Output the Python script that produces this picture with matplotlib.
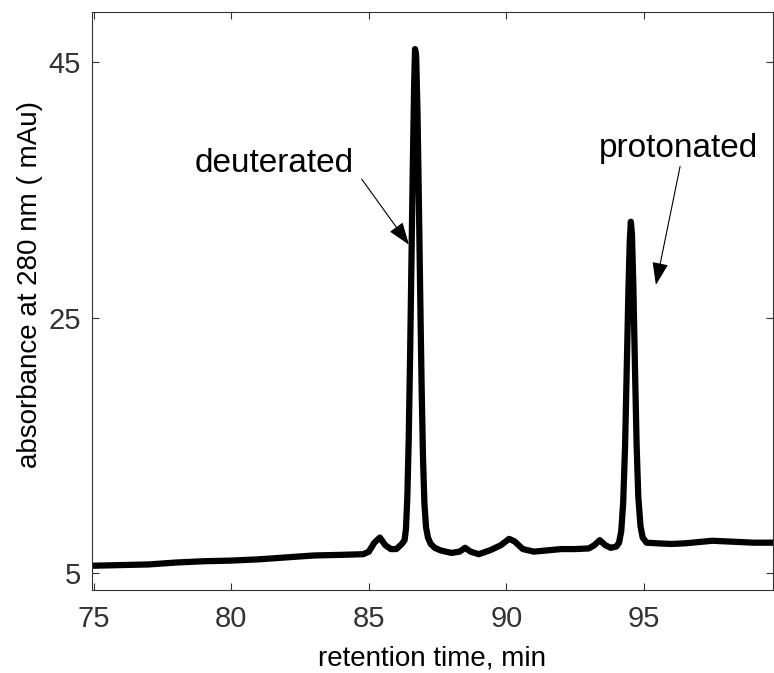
import matplotlib
matplotlib.use("Agg")
import matplotlib.pyplot as plt

# retention time (min) and absorbance (mAu)
time_min = [75.0, 76.0, 77.0, 78.0, 79.0, 80.0, 81.0, 82.0, 83.0, 84.0, 84.8,
            85.0, 85.2, 85.4, 85.6, 85.8, 86.0, 86.2, 86.3,
            86.35, 86.40, 86.45, 86.50, 86.55, 86.60, 86.65, 86.68, 86.72,
            86.77, 86.82, 86.87, 86.92, 86.97, 87.02, 87.08, 87.15, 87.25,
            87.4, 87.6, 88.0, 88.3, 88.5, 88.7, 89.0, 89.4, 89.8, 90.1, 90.3,
            90.6, 91.0, 91.5, 92.0, 92.5, 93.0, 93.2, 93.4, 93.6, 93.8, 94.0,
            94.1, 94.18, 94.25, 94.32, 94.38, 94.44, 94.49, 94.53, 94.57,
            94.62, 94.68, 94.74, 94.80, 94.88, 94.96, 95.1, 95.5, 96.0, 96.5,
            97.0, 97.5, 98.0, 98.5, 99.0, 99.7]
absorbance = [5.6, 5.65, 5.7, 5.85, 5.95, 6.0, 6.1, 6.25, 6.4, 6.45, 6.5,
              6.7, 7.4, 7.8, 7.2, 6.9, 6.9, 7.3, 7.6,
              8.5, 11.0, 15.5, 22.0, 29.5, 37.0, 43.5, 46.0, 45.5,
              41.0, 34.0, 26.5, 19.5, 14.0, 10.5, 8.6, 7.8, 7.3,
              7.0, 6.8, 6.6, 6.7, 7.0, 6.7, 6.5, 6.8, 7.2, 7.7, 7.5,
              6.9, 6.7, 6.8, 6.9, 6.9, 6.95, 7.2, 7.6, 7.2, 7.0, 7.1,
              7.4, 8.3, 10.5, 15.0, 21.0, 27.0, 31.0, 32.5, 31.5,
              27.5, 21.0, 15.0, 11.0, 8.7, 7.8, 7.4, 7.35, 7.3, 7.35,
              7.45, 7.55, 7.5, 7.45, 7.4, 7.4]

x_ticks = [75, 80, 85, 90, 95]
y_ticks = [5, 25, 45]

plt.rcParams['font.family'] = ['Liberation Sans', 'DejaVu Sans']
grey = '#333333'

fig = plt.figure(figsize=(7.74, 6.73), dpi=100)
ax = fig.add_axes([92/774, 83/673, 681/774, 578/673])

ax.plot(time_min, absorbance, color='black', lw=4.5, solid_joinstyle='round')

ax.set_xlim(74.93, 99.7)
ax.set_ylim(3.7, 48.9)
ax.set_xticks(x_ticks)
ax.set_yticks(y_ticks)
ax.tick_params(direction='in', length=5, width=0.8, colors=grey,
               labelsize=21, top=True, right=True)
ax.tick_params(axis='x', pad=11)
ax.tick_params(axis='y', pad=8)
for s in ax.spines.values():
    s.set_color(grey)
    s.set_linewidth(0.8)

ax.set_xlabel('retention time, min', fontsize=20, color='black', labelpad=9)
ax.set_ylabel('absorbance at 280 nm ( mAu)', fontsize=20, color='black', labelpad=4)
ax.yaxis.label.set_y(0.528)

arrow = dict(arrowstyle='-|>,head_length=1.4,head_width=0.5', color='black',
             lw=0.8, shrinkA=0, shrinkB=0)
ax.annotate('', xy=(86.46, 30.7), xytext=(84.74, 35.83), arrowprops=arrow)
ax.annotate('', xy=(95.44, 27.56), xytext=(96.32, 36.82), arrowprops=arrow)
ax.text(81.54, 36.4, 'deuterated', fontsize=24, ha='center', va='baseline')
ax.text(96.26, 37.55, 'protonated', fontsize=24, ha='center', va='baseline')

fig.savefig('out.png', dpi=100)
